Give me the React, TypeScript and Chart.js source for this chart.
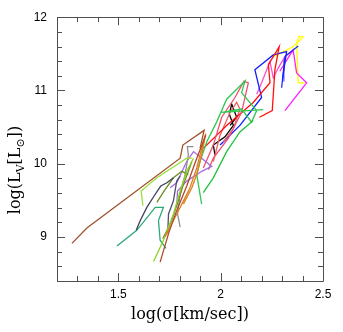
import React, { useEffect, useRef } from "react";
import { Chart, registerables } from "chart.js";

Chart.register(...registerables);

// ---- axis settings / tick labels ----
const xMin = 1.2;
const xMax = 2.5;
const yMin = 8.4;
const yMax = 12;
const xMinorStep = 0.1;
const yMinorStep = 0.2;
const xTickLabels = [1.5, 2, 2.5];
const yTickLabels = [9, 10, 11, 12];
const xTitle = "log(σ[km/sec])";

// ---- tracks: [log sigma, log L_V] ----
const trackBrown: number[][] = [[1.273, 8.913], [1.346, 9.123], [1.802, 10.076], [1.815, 10.255], [1.919, 10.456], [1.899, 10.21]];
const trackSienna: number[][] = [[1.704, 8.658], [1.745, 9.047], [1.785, 9.36], [1.834, 9.696], [1.883, 10.076], [1.927, 10.389]];
const trackOrange: number[][] = [[1.728, 9.002], [1.769, 9.226], [1.818, 9.494], [1.85, 9.673], [1.883, 9.942], [1.915, 10.3], [1.927, 10.412], [1.907, 10.121], [1.883, 9.852], [1.859, 9.673], [1.818, 9.45]];
const trackYellowGreen: number[][] = [[1.62, 9.427], [1.611, 9.629], [1.688, 9.808], [1.834, 10.076], [1.859, 10.076]];
const trackChartreuse: number[][] = [[1.672, 8.667], [1.72, 8.957], [1.769, 9.315], [1.802, 9.629], [1.834, 9.897], [1.867, 10.076]];
const trackSlate: number[][] = [[1.587, 9.092], [1.607, 9.226], [1.639, 9.405], [1.68, 9.584], [1.707, 9.696], [1.737, 9.74], [1.769, 9.808]];
const trackSlate2: number[][] = [[1.741, 9.047], [1.745, 9.315], [1.769, 9.494], [1.785, 9.763], [1.802, 9.83]];
const trackSeaGreen: number[][] = [[1.493, 8.877], [1.59, 9.092], [1.68, 9.405], [1.72, 9.405], [1.696, 9.226], [1.704, 8.957], [1.733, 8.846]];
const trackOlive: number[][] = [[1.688, 9.472], [1.724, 9.629], [1.769, 9.808], [1.81, 9.897], [1.842, 9.852]];
const trackOlive2: number[][] = [[1.717, 8.98], [1.761, 9.226], [1.793, 9.494], [1.818, 9.718], [1.842, 9.897], [1.859, 10.031]];
const trackGrey: number[][] = [[1.802, 9.136], [1.789, 9.315], [1.802, 9.584], [1.826, 9.852], [1.842, 10.121], [1.837, 10.233], [1.867, 10.233]];
const trackPurple: number[][] = [[1.753, 9.673], [1.785, 9.74], [1.834, 10.031], [1.867, 10.166], [1.956, 9.964], [1.907, 9.897], [1.834, 9.763], [1.789, 9.629], [1.785, 9.405]];
const trackGreen: number[][] = [[1.915, 9.606], [1.964, 9.808], [2.029, 10.166], [2.094, 10.434], [2.159, 10.591]];
const trackGreenLoop: number[][] = [[1.907, 9.45], [1.883, 9.852], [1.899, 10.031], [1.932, 10.3], [1.98, 10.568], [2.029, 10.881], [2.119, 11.128], [2.102, 10.971], [2.176, 10.725], [2.151, 10.568], [2.102, 10.747], [2.005, 10.702], [2.208, 10.738]];
const trackSalmon: number[][] = [[1.915, 9.942], [1.964, 10.255], [2.005, 10.635], [2.07, 10.904], [2.114, 11.128], [2.135, 11.105], [2.102, 10.702], [2.037, 10.345], [1.964, 10.076], [1.94, 9.919]];
const trackRed: number[][] = [[1.915, 10.21], [2.029, 10.523], [2.159, 10.837], [2.241, 11.105], [2.233, 11.351], [2.286, 11.597], [2.265, 11.284], [2.252, 10.725], [2.189, 10.635]];
const trackLightRed: number[][] = [[1.964, 10.031], [1.997, 10.389], [2.046, 10.702], [2.078, 10.837], [2.094, 10.747], [2.062, 10.479], [2.013, 10.3]];
const trackBlack: number[][] = [[1.972, 10.121], [1.964, 10.255], [2.021, 10.367], [2.062, 10.523], [2.042, 10.68], [2.054, 10.814], [2.078, 10.635], [2.046, 10.523]];
const trackBlue: number[][] = [[1.997, 10.255], [2.094, 10.523], [2.2, 10.904], [2.167, 11.284], [2.257, 11.485], [2.322, 11.53], [2.302, 11.15]];
const trackBlue2: number[][] = [[2.298, 11.038], [2.314, 11.463], [2.379, 11.606]];
const trackCornflower: number[][] = [[2.306, 11.128], [2.309, 11.418]];
const trackMagenta: number[][] = [[2.314, 10.725], [2.42, 11.105], [2.371, 11.239], [2.354, 11.553], [2.289, 11.262]];
const trackPink: number[][] = [[2.176, 10.949], [2.2, 11.105], [2.241, 11.396], [2.257, 11.172], [2.281, 11.306], [2.314, 11.463], [2.354, 11.553]];
const trackYellow: number[][] = [[2.257, 11.463], [2.354, 11.597], [2.403, 11.732], [2.384, 11.741], [2.371, 11.651], [2.379, 11.105], [2.411, 11.105]];

const tracks: [number[][], string][] = [
  [trackBrown, "#a0522d"],
  [trackSienna, "#b04a30"],
  [trackOrange, "#dd8020"],
  [trackYellowGreen, "#9be03c"],
  [trackChartreuse, "#88d428"],
  [trackSlate, "#40405e"],
  [trackSlate2, "#50506e"],
  [trackSeaGreen, "#2ea878"],
  [trackOlive, "#6b8e23"],
  [trackOlive2, "#7a8a30"],
  [trackGrey, "#909090"],
  [trackPurple, "#a868e0"],
  [trackGreen, "#22c040"],
  [trackGreenLoop, "#30c850"],
  [trackSalmon, "#f05070"],
  [trackRed, "#ff1010"],
  [trackLightRed, "#f06060"],
  [trackBlack, "#000000"],
  [trackBlue, "#1020ff"],
  [trackBlue2, "#2030f0"],
  [trackCornflower, "#7070ff"],
  [trackMagenta, "#ff20ff"],
  [trackPink, "#ff50c8"],
  [trackYellow, "#ffff00"],
];

const isIn = (list: number[], v: number) => list.some((t) => Math.abs(t - v) < 1e-6);

const framePlugin = {
  id: "frameTicks",
  afterDraw(chart: any) {
    const { ctx, chartArea } = chart;
    const { left, right, top, bottom } = chartArea;
    const xs = chart.scales.x;
    const ys = chart.scales.y;
    ctx.save();
    ctx.strokeStyle = "#505050";
    ctx.lineWidth = 1;
    ctx.beginPath();
    ctx.rect(Math.round(left) + 0.5, Math.round(top) + 0.5, Math.round(right - left), Math.round(bottom - top));
    ctx.stroke();
    ctx.beginPath();
    xs.ticks.forEach((t: any) => {
      const px = Math.round(xs.getPixelForValue(t.value)) + 0.5;
      const len = isIn(xTickLabels, t.value) ? 8 : 5;
      ctx.moveTo(px, bottom);
      ctx.lineTo(px, bottom - len);
      ctx.moveTo(px, top);
      ctx.lineTo(px, top + len);
    });
    ys.ticks.forEach((t: any) => {
      const py = Math.round(ys.getPixelForValue(t.value)) + 0.5;
      const len = isIn(yTickLabels, t.value) ? 8 : 5;
      ctx.moveTo(left, py);
      ctx.lineTo(left + len, py);
      ctx.moveTo(right, py);
      ctx.lineTo(right - len, py);
    });
    ctx.stroke();

    // axis titles
    ctx.fillStyle = "#000";
    const big = "16px 'DejaVu Serif', serif";
    const small = "11px 'DejaVu Serif', serif";
    ctx.font = big;
    ctx.textAlign = "center";
    ctx.textBaseline = "alphabetic";
    ctx.fillText(xTitle, (left + right) / 2, 319);

    const parts: [string, boolean][] = [
      ["log(L", false],
      ["V", true],
      ["[L", false],
      ["⊙", true],
      ["])", false],
    ];
    let total = 0;
    parts.forEach(([s, sub]) => {
      ctx.font = sub ? small : big;
      total += ctx.measureText(s).width;
    });
    ctx.translate(20, 170);
    ctx.rotate(-Math.PI / 2);
    ctx.textAlign = "left";
    let cx = -total / 2;
    parts.forEach(([s, sub]) => {
      ctx.font = sub ? small : big;
      ctx.fillText(s, cx, sub ? 4 : 0);
      cx += ctx.measureText(s).width;
    });
    ctx.restore();
  },
};

export default function App() {
  const ref = useRef<HTMLCanvasElement | null>(null);
  useEffect(() => {
    if (!ref.current) return;
    const chart = new Chart(ref.current, {
      type: "line",
      data: {
        datasets: tracks.map(([pts, color]) => ({
          data: pts.map(([x, y]) => ({ x, y })),
          borderColor: color,
          backgroundColor: color,
          borderWidth: 1.3,
          pointRadius: 0,
          tension: 0,
          fill: false,
        })),
      },
      options: {
        animation: false,
        responsive: false,
        events: [],
        layout: { padding: { left: 0, right: 20, top: 13, bottom: 0 } },
        plugins: { legend: { display: false }, tooltip: { enabled: false } },
        scales: {
          x: {
            type: "linear",
            min: xMin,
            max: xMax,
            grid: { display: false, drawTicks: false },
            border: { display: false },
            afterFit: (s: any) => {
              s.height = 51;
            },
            ticks: {
              stepSize: xMinorStep,
              autoSkip: false,
              maxRotation: 0,
              padding: 6,
              color: "#000",
              font: { family: "'Liberation Sans', sans-serif", size: 12 },
              callback: (v: any) => (isIn(xTickLabels, Number(v)) ? String(Math.round(Number(v) * 10) / 10) : ""),
            },
          },
          y: {
            type: "linear",
            min: yMin,
            max: yMax,
            grid: { display: false, drawTicks: false },
            border: { display: false },
            afterFit: (s: any) => {
              s.width = 57;
            },
            ticks: {
              stepSize: yMinorStep,
              autoSkip: false,
              padding: 10,
              color: "#000",
              font: { family: "'Liberation Sans', sans-serif", size: 12 },
              callback: (v: any) => (isIn(yTickLabels, Number(v)) ? String(Math.round(Number(v))) : ""),
            },
          },
        },
      },
      plugins: [framePlugin],
    });
    return () => chart.destroy();
  }, []);
  return (
    <div style={{ position: "fixed", left: 0, top: 0, width: 343, height: 332, background: "#fff" }}>
      <canvas ref={ref} width={343} height={332} />
    </div>
  );
}
